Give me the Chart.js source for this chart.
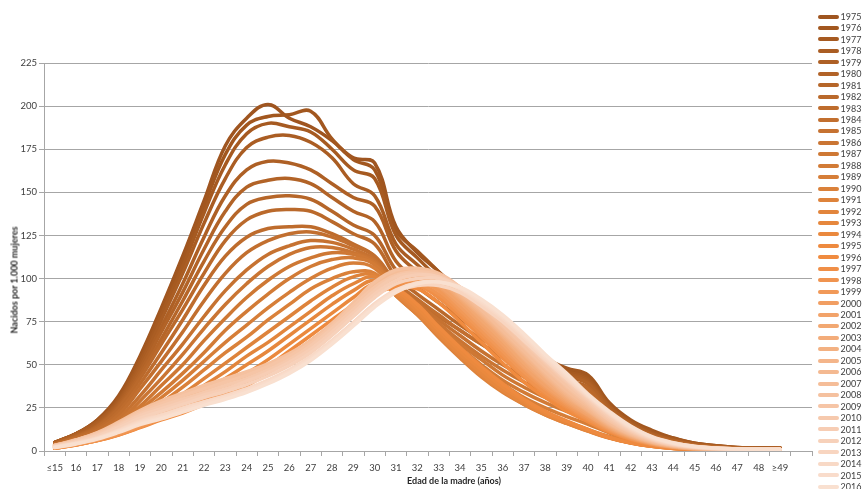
<!DOCTYPE html>
<html><head><meta charset="utf-8">
<script src="https://cdn.jsdelivr.net/npm/chart.js@4.4.1/dist/chart.umd.min.js"></script>
<style>
html,body{margin:0;padding:0;background:#fff;}
#wrap{position:relative;width:862px;height:489px;overflow:hidden;font-family:Lato,"Open Sans",sans-serif;}
#c{position:absolute;left:0;top:0;}
#legend{position:absolute;left:818px;top:10.8px;}
.li{height:11.48px;display:flex;align-items:center;font-size:9px;color:#404040;white-space:nowrap;line-height:11.48px;}
.sw{width:21px;height:4px;border-radius:2px;margin-right:1.5px;flex:none;}
.ttl{position:absolute;font-weight:bold;font-size:9px;color:#262626;white-space:nowrap;}
#ytitle{left:14px;top:280px;transform:translate(-50%,-50%) rotate(-90deg);}
#xtitle{left:454px;top:480px;transform:translate(-50%,-50%);}
</style></head>
<body>
<div id="wrap">
<canvas id="c" width="862" height="489"></canvas>
<div id="legend"></div>
<div class="ttl" id="ytitle">Nacidos por 1.000 mujeres</div>
<div class="ttl" id="xtitle">Edad de la madre (años)</div>
</div>
<script>
const ageLabels = ['≤15','16','17','18','19','20','21','22','23','24','25','26','27','28','29','30','31','32','33','34','35','36','37','38','39','40','41','42','43','44','45','46','47','48','≥49',''];
const years = [1975,1976,1977,1978,1979,1980,1981,1982,1983,1984,1985,1986,1987,1988,1989,1990,1991,1992,1993,1994,1995,1996,1997,1998,1999,2000,2001,2002,2003,2004,2005,2006,2007,2008,2009,2010,2011,2012,2013,2014,2015,2016];
const yTicks = [0,25,50,75,100,125,150,175,200,225];

const s1975 = [5,10,18,32,55,83,113,145,177,193,201,193,188,180,170,167,130,115,104,92,82,72,62,53,47,43,27,17,11,7.5,4.5,3,2,1.7,1.9];
const s1976 = [5,10,18,31,54,81,110,142,172,189,194,195,197,181,169,163,128,116,104,93,83,73,63,54,48,44,28,18,12,7.5,4.5,3,2,1.7,1.9];
const s1977 = [5,10,17,30,52,79,107,138,166,184,190,188,185,175,163,158,125,112,100,89,79,70,60,52,46,42,26,17,11,7,4.3,2.9,1.9,1.6,1.8];
const s1978 = [5,10,17,29,50,76,103,132,158,176,182,183,179,170,155,148,120,108,97,86,77,68,59,51,45,41,26,16,10,6.5,4,2.7,1.8,1.5,1.7];
const s1979 = [4.8,9.5,16,28,48,72,97,124,148,163,168,167,163,155,147,142,116,104,94,84,75,66,57,50,44,40,25,16,10,6.2,3.8,2.5,1.7,1.4,1.6];
const s1980 = [4.6,9,15,27,46,69,92,117,139,153,157,158,155,147,139,133,110,99,89,80,71,63,55,48,43,39,24,15,9.5,6,3.6,2.4,1.6,1.3,1.5];
const s1981 = [4.4,8.6,14.5,26,44,65,87,110,130,143,147,148,146,139,131,125,105,95,86,77,68,61,53,46,41,37,23,14.5,9,5.7,3.4,2.3,1.5,1.3,1.4];
const s1982 = [4.2,8.2,14,25,42,62,82,103,122,134,139,140,139,133,126,120,101,91,82,73,65,58,51,44,40,36,22,14,8.6,5.4,3.2,2.2,1.4,1.2,1.4];
const s1983 = [4,7.8,13,23,39,57,76,96,113,124,129,130,130,126,120,113,96,87,78,70,62,55,49,42,38,34,21,13,8.2,5.1,3,2.1,1.4,1.2,1.3];
const s1984 = [3.8,7.3,12,21,36,52,69,87,103,115,122,126,127,124,119,113,98,88,79,70,62,54,47,40,35,31,19,12,7.4,4.5,2.7,1.8,1.2,1,1.1];
const s1985 = [3.6,6.8,11,19,32,47,62,78,93,105,114,119,122,121,117,111,96,86,76,67,58,50,43,37,31,27,17,10.5,6.5,4,2.4,1.6,1.1,0.9,1];
const s1986 = [3.4,6.4,10,17,29,42,56,71,85,97,107,114,118,118,115,110,95,84,74,64,55,47,40,34,28,24,15,9.5,5.8,3.5,2.1,1.4,1,0.8,0.9];
const s1987 = [3.2,6,9.4,16,26,38,50,64,77,89,99,107,112,115,114,109,94,83,72,62,53,44,37,31,25,21,13.5,8.5,5.2,3.1,1.9,1.2,0.8,0.7,0.8];
const s1988 = [3,5.6,8.8,15,24,34,45,57,70,81,91,100,107,111,112,108,93,82,70,60,50,41,34,28,23,18.5,12,7.5,4.5,2.7,1.6,1,0.7,0.6,0.7];
const s1989 = [2.8,5.2,8.2,13.5,22,31,41,52,63,73,83,92,100,106,109,106,92,81,69,58,48,39,31,25,20,15.5,10.5,6.5,4,2.3,1.4,0.9,0.6,0.5,0.6];
const s1990 = [2.6,4.8,7.6,12.5,20,28,37,47,57,66,76,85,94,100,104,103,90,79,67,55,45,36,28,22,17,12.5,8.5,5.3,3.2,1.9,1.1,0.7,0.5,0.4,0.5];
const s1991 = [2.4,4.5,7.2,11.5,18,25,33,42,51,60,69,78,87,95,101,102,90,79,66,54,43,34,27,21,16,11.5,7.7,4.8,2.9,1.7,1,0.6,0.4,0.3,0.4];
const s1992 = [2.2,4.2,6.8,10.8,16.5,23,30,38,46,55,63,72,81,90,97,101,91,80,67,55,44,35,27,21,16,11.5,7.5,4.6,2.7,1.6,0.9,0.5,0.4,0.3,0.4];
const s1993 = [2,4,6.5,10.2,15.5,21,27,34,42,50,58,67,76,85,93,99,92,81,68,56,45,35,28,21.5,16.5,11.8,7.6,4.6,2.7,1.5,0.9,0.5,0.3,0.3,0.3];
const s1994 = [1.8,3.8,6.3,9.8,14.5,19.5,25,31,38,45,53,62,71,80,89,97,93,83,70,58,47,37,29,22,17,12.2,7.8,4.7,2.7,1.5,0.8,0.5,0.3,0.2,0.3];
const s1995 = [1.7,3.6,6.1,9.5,14,18.5,23,28,34,41,49,58,67,76,85,95,94,85,72,60,49,39,30,23,17.5,12.5,8,4.8,2.7,1.5,0.8,0.5,0.3,0.2,0.3];
const s1996 = [1.6,3.5,6,9.3,13.5,18,22,27,32,38,46,55,64,73,82,91,95,94,86,75,63,51,40,31,23,17,11,6.5,3.7,2,1.1,0.6,0.4,0.3,0.3];
const s1997 = [1.6,3.5,6,9.4,13.8,18.5,22.5,27,32,38,45,54,63,72,82,91,96,96,89,78,66,54,43,33,25,18,11.5,6.8,3.8,2.1,1.1,0.6,0.4,0.3,0.3];
const s1998 = [1.7,3.6,6.2,9.6,14,19,23,27.5,32,38,45,53,62,72,82,91,97,97,91,80,68,56,44,34,26,18.5,12,7,4,2.1,1.1,0.6,0.4,0.3,0.3];
const s1999 = [1.8,3.8,6.5,10.2,14.8,20,24,28.5,33,39,46,54,63,73,83,93,99,99,93,82,70,58,46,36,27,19.5,12.5,7.3,4.1,2.2,1.2,0.6,0.4,0.3,0.4];
const s2000 = [2,4.2,7,11,16,21,25.5,30,34,40,47,55,63,73,84,95,101,101,95,84,72,60,48,37,28,20.5,13,7.7,4.3,2.3,1.2,0.7,0.4,0.3,0.4];
const s2001 = [2.2,4.6,7.6,12,17.5,22.5,27,31.5,35.5,41,47,54,63,73,85,96,102,102,96,86,74,62,49,38,29,21,13.5,8,4.5,2.4,1.3,0.7,0.5,0.4,0.4];
const s2002 = [2.4,5,8.2,13,19,24,28.5,33,37,42,47.5,54,62,72,84,95,102,103,98,88,76,64,51,40,30,22,14,8.3,4.7,2.5,1.4,0.8,0.5,0.4,0.5];
const s2003 = [2.6,5.4,8.8,14,20,25.5,30,34.5,38.5,43,48,54.5,62,72,84,96,103,104,99,89,78,66,53,41,31,23,14.5,8.6,4.8,2.6,1.4,0.8,0.5,0.4,0.5];
const s2004 = [2.8,5.7,9.3,14.8,21,26.5,31,35.5,39.5,44,48.5,55,62,72,84,96,103,104,100,90,79,67,54,43,32,23.5,15,9,5,2.8,1.5,0.9,0.6,0.5,0.6];
const s2005 = [3,6,9.8,15.5,22,27.5,32,36.5,40.5,44.5,49,55,62,72,84,96,103,104,100,91,80,68,56,44,33,24,15.5,9.3,5.2,2.9,1.6,0.9,0.6,0.5,0.6];
const s2006 = [3.1,6.2,10.2,16,22.5,28,32.5,37,41,45,49.5,55.5,63,73,85,97,104,105,101,92,81,69,57,45,34,25,16,9.6,5.4,3,1.7,1,0.7,0.6,0.7];
const s2007 = [3.2,6.3,10.4,16.3,23,28.5,33,37.5,41.5,45.5,50,56,63.5,73.5,85,97,104,105,102,93,82,70,58,46,35,26,16.5,10,5.6,3.1,1.8,1.1,0.8,0.7,0.8];
const s2008 = [3.3,6.5,10.7,16.8,23.5,29,33.5,38,42,46,50.5,56.5,64,74,86,98,105,106,103,95,84,72,60,48,37,27,17.5,10.5,6,3.3,1.9,1.2,0.9,0.8,0.9];
const s2009 = [3.2,6.3,10.3,16,22.5,27.5,32,36,40,44,49,55,62.5,72.5,84,95,102,104,102,95,85,73,61,49,38,28,18,11,6.2,3.4,2,1.3,0.9,0.8,0.9];
const s2010 = [3,6,9.8,15.3,21.5,26,30,34,38,42,47,53,61,71,82,93,101,103,101,95,86,75,63,51,40,29,19,11.5,6.5,3.6,2.1,1.3,0.9,0.8,0.9];
const s2011 = [2.8,5.6,9.2,14.5,20.5,24.5,28.5,32.5,36,40.5,45.5,51.5,59,69,80,91,99,102,101,95,86,76,64,52,41,30,20,12,6.8,3.8,2.2,1.4,1,0.9,1];
const s2012 = [2.6,5.2,8.6,13.5,19,23,27,31,34.5,38.5,43.5,49.5,57,67,78,89,97,100,100,95,86,76,65,53,42,31,21,12.5,7.1,4,2.3,1.4,1,0.9,1];
const s2013 = [2.3,4.7,7.8,12.3,17.5,21,25,28.5,32,36,41,47,54.5,64,74.5,85,92.5,96,96,92,84,75,64,53,42,31.5,21.5,13,7.4,4.2,2.4,1.5,1.1,1,1];
const s2014 = [2.2,4.5,7.5,11.8,16.8,20.5,24.5,28.5,32,36,41,47,54.5,64,74.5,85.5,93.5,97.5,98,94,86,77,66,54,43,32,22,13.5,7.7,4.4,2.5,1.6,1.2,1,1];
const s2015 = [2.1,4.3,7.2,11.3,16,19.5,23.5,27.5,31,35,40,46,53.5,63,73.5,84.5,93,97.5,98,94.5,87,78,67,55,44,32.5,22.5,14,8,4.6,2.6,1.7,1.2,1,1];
const s2016 = [2,4.1,6.9,10.8,15.3,18.7,22.5,26.5,30,34,39,45,52.5,62,72.5,83.5,92,97,98,95,88,79,68,56,45,33,23,14.5,8.3,4.8,2.7,1.7,1.3,1.1,1];

const seriesValues = [s1975,s1976,s1977,s1978,s1979,s1980,s1981,s1982,s1983,s1984,s1985,s1986,s1987,s1988,s1989,s1990,s1991,s1992,s1993,s1994,s1995,s1996,s1997,s1998,s1999,s2000,s2001,s2002,s2003,s2004,s2005,s2006,s2007,s2008,s2009,s2010,s2011,s2012,s2013,s2014,s2015,s2016];

const seriesColors = ['#9f5520','#a2571f','#a65a21','#aa5d23','#ae6025','#b26327','#b66629','#ba692b','#be6c2d','#c26f2f','#c67231','#ca7533','#ce7834','#d27b36','#d67e38','#da813a','#de833b','#e2853c','#e6873d','#ea893e','#ee8a3f','#f08b3f','#f08f47','#f09450','#f19958','#f19e62','#f2a36a','#f2a872','#f3ac7a','#f3b182','#f4b58a','#f4b991','#f5bd98','#f5c19f','#f6c5a6','#f6c9ad','#f7cdb4','#f7d1ba','#f8d5c0','#f8d9c6','#f9dccb','#f9e0d0'];

const datasets = years.map((y,i)=>({
  label: String(y),
  data: seriesValues[i],
  borderColor: seriesColors[i],
  backgroundColor: seriesColors[i],
  borderWidth: 3.5,
  pointRadius: 0,
  tension: 0.4,
  fill: false,
  borderCapStyle: 'round',
  borderJoinStyle: 'round',
  order: years.length - i
}));

const gridCol = '#a6a6a6';
new Chart(document.getElementById('c'), {
  type: 'line',
  data: { labels: ageLabels, datasets },
  options: {
    responsive: false,
    animation: false,
    devicePixelRatio: 1,
    layout: { padding: { top: 63, right: 50, left: 0, bottom: 0 } },
    plugins: { legend: { display: false }, tooltip: { enabled: false } },
    scales: {
      x: {
        type: 'category',
        offset: true,
        grid: { offset: true, drawOnChartArea: false, drawTicks: true, tickLength: 5, color: gridCol },
        border: { color: gridCol },
        ticks: { autoSkip: false, maxRotation: 0, minRotation: 0, padding: 6, color: '#404040', font: { family: 'Lato', size: 9.5 } },
        afterFit: s => { s.height = 38; }
      },
      y: {
        min: 0, max: 225,
        afterBuildTicks: s => { s.ticks = yTicks.map(v => ({ value: v })); },
        grid: { color: gridCol, tickLength: 5 },
        border: { color: gridCol },
        ticks: { padding: 2, color: '#404040', font: { family: 'Lato', size: 9.5 } },
        afterFit: s => { s.width = 44; }
      }
    }
  }
});

const lg = document.getElementById('legend');
years.forEach((y,i)=>{
  const d = document.createElement('div'); d.className='li';
  const sw = document.createElement('span'); sw.className='sw'; sw.style.background = seriesColors[i];
  const t = document.createElement('span'); t.textContent = String(y);
  d.appendChild(sw); d.appendChild(t); lg.appendChild(d);
});
</script>
</body></html>
